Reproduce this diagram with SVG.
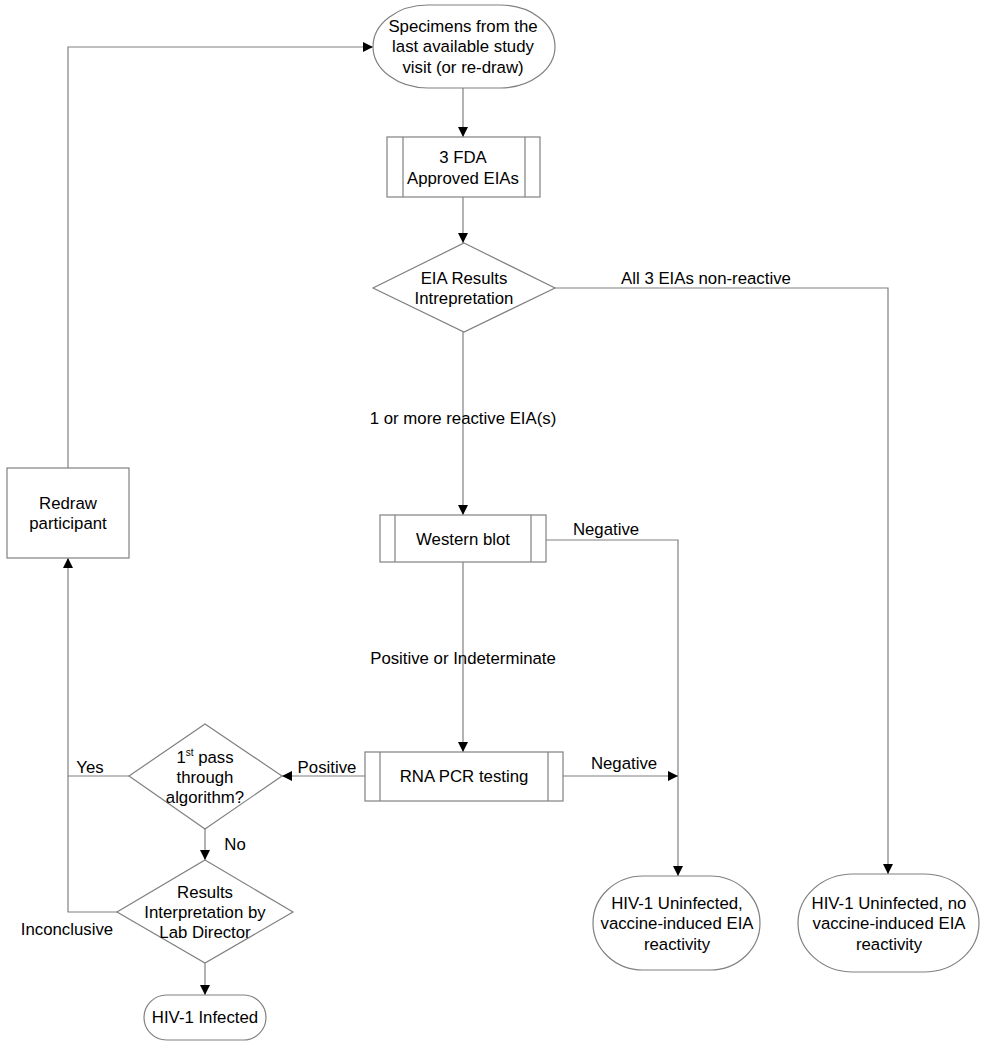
<svg xmlns="http://www.w3.org/2000/svg" width="987" height="1050" viewBox="0 0 987 1050">
<defs>
<marker id="arr" viewBox="0 0 10 10" refX="10" refY="5" markerWidth="10" markerHeight="10" markerUnits="userSpaceOnUse" orient="auto">
<path d="M0,0 L10,5 L0,10 Z" fill="#000"/>
</marker>
<style>
.s{fill:#fff;stroke:#808080;stroke-width:1.2}
.c{fill:none;stroke:#808080;stroke-width:1.2}
.a{marker-end:url(#arr)}
text{font-family:"Liberation Sans",Arial,sans-serif;font-size:16.8px;fill:#000;text-anchor:middle}
</style>
</defs>
<rect width="987" height="1050" fill="#fff"/>
<g id="connectors">
<path class="c a" d="M463,88 V137"/>
<path class="c a" d="M463,197 V243"/>
<path class="c a" d="M555,288 H888 V874"/>
<path class="c a" d="M463,332 V515"/>
<path class="c a" d="M546,540 H678 V876"/>
<path class="c a" d="M463,562 V752"/>
<path class="c a" d="M563,776 H678"/>
<path class="c a" d="M365,776 H282"/>
<path class="c a" d="M129,776 H68 V558"/>
<path class="c" d="M117,912 H68 V776"/>
<path class="c a" d="M68,468 V47 H373"/>
<path class="c a" d="M205,829 V860"/>
<path class="c a" d="M205,963 V995"/>
<text x="706" y="284">All 3 EIAs non-reactive</text>
<text x="463" y="424">1 or more reactive EIA(s)</text>
<text x="606" y="535">Negative</text>
<text x="463" y="664">Positive or Indeterminate</text>
<text x="624" y="769">Negative</text>
<text x="327" y="773">Positive</text>
<text x="90" y="773">Yes</text>
<text x="235" y="850">No</text>
<text x="67" y="935">Inconclusive</text>
</g>
<g id="start">
<rect class="s" x="373" y="5" width="182" height="83" rx="55" ry="41.5"/>
<text x="463" y="32">Specimens from the</text>
<text x="463" y="52">last available study</text>
<text x="463" y="73">visit (or re-draw)</text>
</g>
<g id="fda">
<rect class="s" x="387" y="137" width="153" height="60"/>
<path class="c" d="M403,137 V197 M525,137 V197"/>
<text x="463" y="163">3 FDA</text>
<text x="463" y="184">Approved EIAs</text>
</g>
<g id="eia">
<polygon class="s" points="464,243 555,288 464,332 373,288"/>
<text x="464" y="284">EIA Results</text>
<text x="464" y="304">Intrepretation</text>
</g>
<g id="western">
<rect class="s" x="380" y="515" width="166" height="47"/>
<path class="c" d="M395,515 V562 M531,515 V562"/>
<text x="463" y="545">Western blot</text>
</g>
<g id="rna">
<rect class="s" x="365" y="752" width="198" height="49"/>
<path class="c" d="M380,752 V801 M548,752 V801"/>
<text x="464" y="782">RNA PCR testing</text>
</g>
<g id="firstpass">
<polygon class="s" points="205,724 282,776 205,829 129,776"/>
<text x="205" y="763">1<tspan font-size="10" dy="-7">st</tspan><tspan dy="7"> pass</tspan></text>
<text x="205" y="783">through</text>
<text x="205" y="803">algorithm?</text>
</g>
<g id="labdirector">
<polygon class="s" points="205,860 293,912 205,963 117,912"/>
<text x="205" y="898">Results</text>
<text x="205" y="918">Interpretation by</text>
<text x="205" y="938">Lab Director</text>
</g>
<g id="redraw">
<rect class="s" x="7" y="468" width="122" height="90"/>
<text x="68" y="509">Redraw</text>
<text x="68" y="529">participant</text>
</g>
<g id="infected">
<rect class="s" x="144" y="995" width="122" height="45" rx="22.5"/>
<text x="205" y="1023">HIV-1 Infected</text>
</g>
<g id="uninfected-vaccine">
<rect class="s" x="593" y="876" width="167" height="94" rx="50" ry="47"/>
<text x="677" y="909">HIV-1 Uninfected,</text>
<text x="677" y="929">vaccine-induced EIA</text>
<text x="677" y="950">reactivity</text>
</g>
<g id="uninfected-no">
<rect class="s" x="798" y="874" width="181" height="98" rx="55" ry="49"/>
<text x="889" y="909">HIV-1 Uninfected, no</text>
<text x="889" y="929">vaccine-induced EIA</text>
<text x="889" y="950">reactivity</text>
</g>
</svg>
